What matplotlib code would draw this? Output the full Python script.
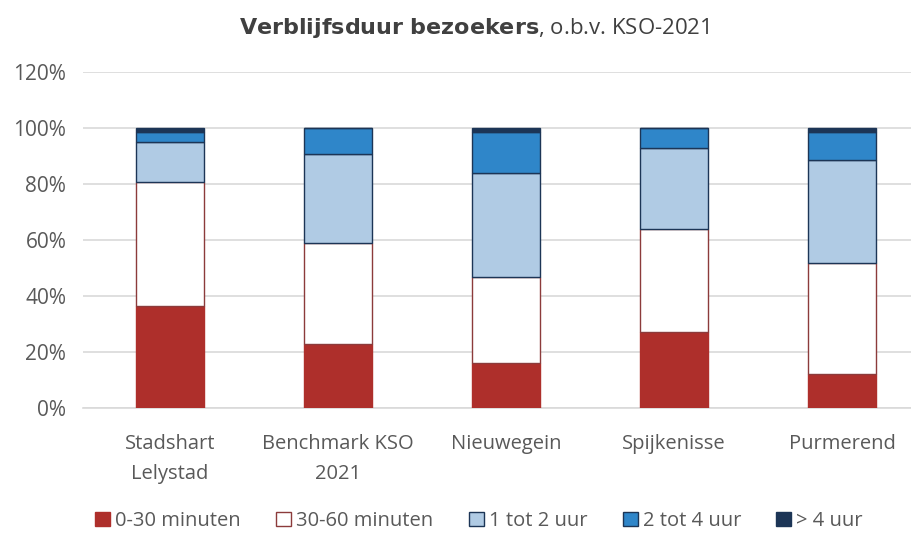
import numpy as np
import matplotlib
matplotlib.use("Agg")
import matplotlib.pyplot as plt

plt.rcParams['font.family'] = ['Open Sans', 'DejaVu Sans']

# data (percentages)
locaties = ["Stadshart\nLelystad", "Benchmark KSO\n2021", "Nieuwegein", "Spijkenisse", "Purmerend"]
reeksen = ["0-30 minuten", "30-60 minuten", "1 tot 2 uur", "2 tot 4 uur", "> 4 uur"]
min_0_30 = [36.6, 23.0, 16.1, 27.0, 12.0]
min_30_60 = [44.1, 35.8, 30.7, 36.9, 39.8]
uur_1_2 = [14.2, 32.0, 37.1, 29.1, 36.6]
uur_2_4 = [3.7, 9.2, 14.7, 7.0, 10.2]
uur_4_plus = [1.4, 0.0, 1.4, 0.0, 1.4]

kleuren = ["#AE2F2B", "#FFFFFF", "#B0CBE4", "#2F86C9", "#1C3556"]
randen = ["#AE2F2B", "#8C3B3B", "#1C3556", "#1C3556", "#1C3556"]

fig = plt.figure(figsize=(9.12, 5.33), dpi=100)
ax = fig.add_axes([83/912, 1-408/533, (912-83)/912, (408-72)/533])

x = np.arange(len(locaties))
onder = np.zeros(len(locaties))
for naam, vals, kl, rd in zip(reeksen, [min_0_30, min_30_60, uur_1_2, uur_2_4, uur_4_plus], kleuren, randen):
    vals = np.array(vals) / 100
    ax.bar(x, vals, 0.405, bottom=onder, color=kl, edgecolor=rd, linewidth=1.0, label=naam, zorder=3)
    onder += vals

ax.set_xlim(-0.518, 4.417)
ax.set_ylim(0, 1.2)
ax.set_yticks(np.arange(0, 1.21, 0.2))
ax.set_yticklabels(["{:.0f}%".format(v*100) for v in np.arange(0, 1.21, 0.2)])
ax.set_xticks(x)
ax.set_xticklabels(locaties, linespacing=1.65)
ax.yaxis.grid(True, color="#D9D9D9", linewidth=1.2, zorder=0)
for s in ["top", "right", "left"]:
    ax.spines[s].set_visible(False)
ax.spines["bottom"].set_color("#D9D9D9")
ax.spines["bottom"].set_linewidth(1.2)
ax.tick_params(axis="both", length=0, labelsize=14.5, labelcolor="#595959")
ax.tick_params(axis="y", labelsize=15, pad=12)
ax.tick_params(axis="x", pad=19)

fig.text(474/912, 1-28/533, r"$\bf{Verblijfsduur\ bezoekers}$" + ", o.b.v. KSO-2021",
         ha="center", va="center", fontsize=16, color="#404040")

ax.legend(loc="center", bbox_to_anchor=(479/912, 1-521/533), bbox_transform=fig.transFigure,
          ncol=5, frameon=False, fontsize=14.5, handlelength=0.75, handleheight=0.75,
          handletextpad=0.25, columnspacing=1.75, labelcolor="#595959")

plt.savefig("out.png", dpi=100)
